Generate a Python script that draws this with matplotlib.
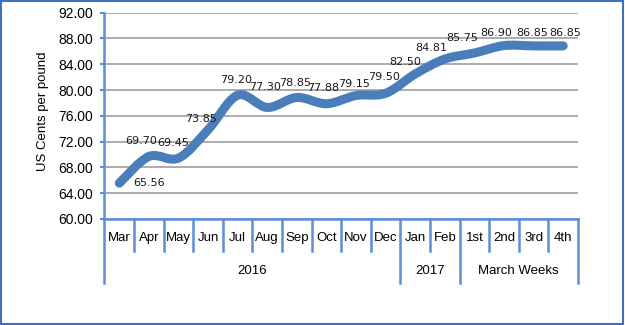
import numpy as np
import matplotlib
matplotlib.use('Agg')
import matplotlib.pyplot as plt
from matplotlib.path import Path
from matplotlib.patches import PathPatch, Rectangle
from matplotlib.lines import Line2D

plt.rcParams['font.family'] = ['Liberation Sans', 'DejaVu Sans']

# data
categories = ['Mar', 'Apr', 'May', 'Jun', 'Jul', 'Aug', 'Sep', 'Oct', 'Nov', 'Dec',
              'Jan', 'Feb', '1st', '2nd', '3rd', '4th']
prices = [65.56, 69.70, 69.45, 73.85, 79.20, 77.30, 78.85, 77.88, 79.15, 79.50,
          82.50, 84.81, 85.75, 86.90, 86.85, 86.85]
groups = ['2016', '2017', 'March Weeks']
group_sizes = [10, 2, 4]
yticks = [60, 64, 68, 72, 76, 80, 84, 88, 92]

# label offsets (pixels) as placed in the original chart
label_dx = [14, -8, -5, -7, -2, -2, -2, -3, -2, -2, -10, -14, -12, -8, -1, 2]
label_dy = [0, 15, 15, 11, 15, 20, 14, 16, 12, 16, 12, 11, 15, 13, 13, 13]

line_blue = '#4A7EBB'
axis_blue = '#5B8FD6'

W, H = 625, 325
fig = plt.figure(figsize=(6.25, 3.25), dpi=100)
x0, x1, ytop, ybot = 104.5, 578, 12.7, 219
ax = fig.add_axes([x0 / W, (H - ybot) / H, (x1 - x0) / W, (ybot - ytop) / H])

n = len(prices)
x = np.arange(n)
y = np.array(prices)

# smoothed line (bezier through the data points)
verts = [(x[0], y[0])]
codes = [Path.MOVETO]
for i in range(n - 1):
    a = max(i - 1, 0)
    b = min(i + 2, n - 1)
    c1 = (x[i] + (x[i + 1] - x[a]) / 6, y[i] + (y[i + 1] - y[a]) / 6)
    c2 = (x[i + 1] - (x[b] - x[i]) / 6, y[i + 1] - (y[b] - y[i]) / 6)
    verts += [c1, c2, (x[i + 1], y[i + 1])]
    codes += [Path.CURVE4] * 3
ax.add_patch(PathPatch(Path(verts, codes), fill=False, edgecolor=line_blue,
                       lw=6.5, capstyle='round', joinstyle='round', zorder=3))

for i, v in enumerate(prices):
    ha = 'left' if i == 0 else 'center'
    ax.annotate('%.2f' % v, (i, v), xytext=(label_dx[i], label_dy[i]),
                textcoords='offset pixels', ha=ha, va='center', fontsize=8,
                family='DejaVu Sans', color='#1a1a1a', zorder=4)

ax.set_xlim(-0.5, n - 0.5)
ax.set_ylim(60, 92)
ax.set_yticks(yticks)
ax.set_yticklabels(['%.2f' % t for t in yticks])
ax.set_xticks([])
ax.tick_params(axis='y', direction='out', length=3, width=1.5, color=axis_blue,
               pad=5, labelsize=10)
ax.yaxis.grid(True, color='#A6A6A6', lw=1.3)
ax.set_axisbelow(True)
for s in ['top', 'right']:
    ax.spines[s].set_visible(False)
for s in ['left', 'bottom']:
    ax.spines[s].set_color(axis_blue)
    ax.spines[s].set_linewidth(1.8)

# multi-level category axis
h = ybot - ytop
y_month = -(251 - ybot) / h
y_group = -(283 - ybot) / h
tr = ax.get_xaxis_transform()
bounds = np.cumsum([0] + group_sizes)
for k in range(n + 1):
    bottom = y_group if k in bounds else y_month
    ax.add_line(Line2D([k - 0.5, k - 0.5], [0, bottom], transform=tr,
                       color=axis_blue, lw=1.8, clip_on=False))
for i, c in enumerate(categories):
    ax.text(i, -(238 - ybot) / h, c, transform=tr, ha='center', va='center',
            fontsize=9.5)
for g, s, size in zip(groups, bounds[:-1], group_sizes):
    ax.text(s + size / 2 - 0.5, -(271 - ybot) / h, g, transform=tr,
            ha='center', va='center', fontsize=9.5)

fig.text(43 / W, 1 - 111 / H, 'US Cents per pound', rotation=90,
         ha='center', va='center', fontsize=9.5)

fig.patches.append(Rectangle((0.002, 0.003), 0.995, 0.993, transform=fig.transFigure,
                             fill=False, edgecolor='#3F72B8', lw=1.5))

fig.savefig('out.png', dpi=100)
